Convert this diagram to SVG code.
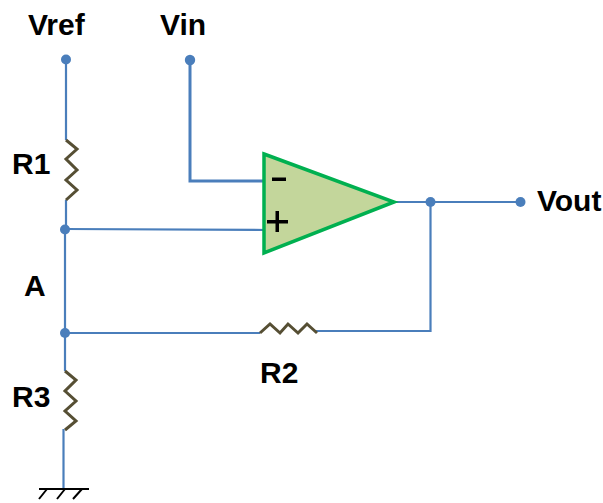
<svg xmlns="http://www.w3.org/2000/svg" width="603" height="503" viewBox="0 0 603 503">
<style>
.w{fill:none;stroke:#4a7ebb;stroke-width:2.2;stroke-linejoin:miter}
.t{stroke-width:3}
.d{fill:#4a7ebb}
.r{fill:none;stroke:#564f34;stroke-width:3;stroke-linejoin:miter}
text{font-family:"Liberation Sans",Arial,sans-serif;font-weight:700;fill:#000;font-size:30px}
</style>
<rect width="603" height="503" fill="#fff"/>
<g id="connectors">
<path class="w" d="M66 60V140"/>
<path class="w t" d="M190 60V181H266"/>
<path class="w" d="M66 200V229"/>
<path class="w" d="M65 229L268 230"/>
<path class="w" d="M65 229V333"/>
<path class="w" d="M65 333H260"/>
<path class="w" d="M65 333V371"/>
<path class="w" d="M63.500 429V489"/>
<path class="w" d="M316 331H430.500V202"/>
<path class="w" d="M394 202H520"/>
</g>
<g id="junctions">
<circle class="d" cx="66" cy="59.500" r="5"/>
<circle class="d" cx="190" cy="60" r="5.200"/>
<circle class="d" cx="65" cy="229.500" r="5"/>
<circle class="d" cx="65" cy="333" r="5"/>
<circle class="d" cx="430.500" cy="202" r="5"/>
<circle class="d" cx="520.500" cy="202" r="5"/>
</g>
<g id="R1"><path class="r" d="M66 140L77 149L66 159L77 170L66 180L77 190L66 200"/><text x="12" y="174">R1</text></g>
<g id="R2"><path class="r" d="M260 333L270 324L280 333L288 324L298 333L307 324L317 333"/><text x="260" y="383">R2</text></g>
<g id="R3"><path class="r" d="M65 371L76 380L65 391L76 401L65 411L76 421L65 430"/><text x="12" y="407">R3</text></g>
<g id="opamp">
<path d="M264 154L394 202L264 253Z" fill="#c3d69b" stroke="#00b050" stroke-width="3.500" stroke-linejoin="miter"/>
<path d="M272 177.500H286V181H272Z" fill="#000"/>
<path d="M275.500 211H279V220H288V223.500H279V232H275.500V223.500H267V220H275.500Z" fill="#000"/>
</g>
<g id="ground">
<path d="M39 489H89" fill="none" stroke="#000" stroke-width="2"/>
<path d="M47 489L39 499M65 489L57 499M82 489L73 499" fill="none" stroke="#000" stroke-width="2"/>
</g>
<g id="Vref"><text x="28" y="34.500">Vref</text></g>
<g id="Vin"><text x="160" y="34.500">Vin</text></g>
<g id="Vout"><text x="537" y="210.500">Vout</text></g>
<g id="A"><text x="24" y="296">A</text></g>
</svg>
